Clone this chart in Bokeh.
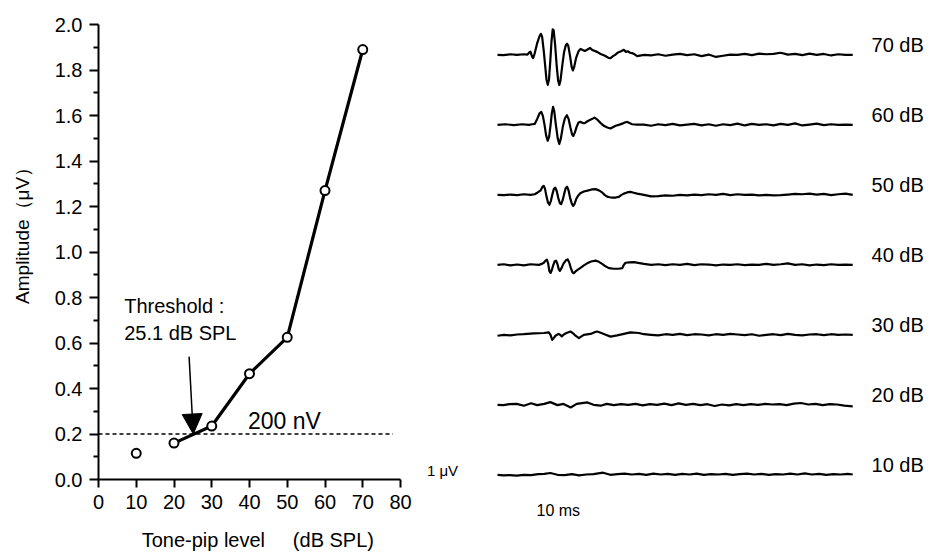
import numpy as np
from bokeh.plotting import figure
from bokeh.layouts import row
from bokeh.models import (Range1d, Arrow, NormalHead, Label, FixedTicker,
                          NumeralTickFormatter)
from bokeh.embed import file_html
from bokeh.resources import INLINE
from bokeh.core.properties import value

FONT = "Liberation Sans"
NB = "\u00a0"

# ---------------- left panel data ----------------
levels_db = [10, 20, 30, 40, 50, 60, 70]
amplitude_uv = [0.115, 0.160, 0.235, 0.465, 0.625, 1.270, 1.890]
threshold_db = 25.1
criterion_uv = 0.2
criterion_x = [0, 78]
x_ticks = [0, 10, 20, 30, 40, 50, 60, 70, 80]
y_ticks = [0.0, 0.2, 0.4, 0.6, 0.8, 1.0, 1.2, 1.4, 1.6, 1.8, 2.0]
y_minor = [0.1, 0.3, 0.5, 0.7, 0.9, 1.1, 1.3, 1.5, 1.7, 1.9]

# ---------------- right panel data (time in ms, amplitude in uV) ----------------
trace_levels = [70, 60, 50, 40, 30, 20, 10]
trace_labels = ["70 dB", "60 dB", "50 dB", "40 dB", "30 dB", "20 dB", "10 dB"]

tail_t = [12.2, 12.8, 13.4, 14.0, 14.6, 15.2, 15.8, 16.4, 17.0, 17.6, 18.2, 18.8,
          19.4, 20.0, 20.6, 21.2, 21.8, 22.4, 23.0, 23.6, 24.2, 24.8, 25.4, 26.0,
          26.6, 27.2, 27.8, 28.4, 29.0, 29.6]

t70 = [0.0, 0.5, 1.1, 1.6, 2.2, 2.5, 2.65, 2.75, 2.88, 2.97, 3.1, 3.3, 3.5, 3.62, 3.72,
       3.85, 3.97, 4.08, 4.19, 4.29, 4.4, 4.5, 4.6, 4.68, 4.8, 4.93, 5.05, 5.15, 5.25,
       5.4, 5.55, 5.7, 5.8, 5.9, 6.05, 6.18, 6.28, 6.38, 6.55, 6.75, 6.92, 7.1, 7.28,
       7.5, 7.72, 7.9, 8.05, 8.3, 8.6, 9.0, 9.25, 9.42, 9.6, 9.8, 10.05, 10.3, 10.53,
       10.7, 10.85, 11.05, 11.22, 11.45, 11.64] + tail_t
a70 = [0.0, -0.01, 0.02, 0.0, 0.02, 0.01, 0.08, 0.11, -0.06, -0.11, 0.05, 0.38, 0.62,
       0.70, 0.60, 0.15, -0.35, -0.82, -1.0, -0.82, -0.2, 0.45, 0.85, 0.82, 0.35, -0.35,
       -0.85, -1.0, -0.85, -0.35, 0.1, 0.33, 0.37, 0.3, -0.05, -0.4, -0.52, -0.42, -0.1,
       0.12, 0.2, 0.16, 0.13, 0.18, 0.23, 0.16, 0.14, 0.1, 0.03, -0.04, -0.1, -0.11,
       -0.05, 0.0, 0.08, 0.12, 0.17, 0.1, 0.12, 0.07, 0.06, 0.01, -0.04] + \
      [0.0, -0.02, 0.02, -0.03, 0.01, 0.03, -0.01, 0.02, -0.04, 0.01, -0.07, -0.03, 0.01,
       0.0, 0.03, -0.01, 0.04, 0.02, 0.03, 0.07, 0.01, 0.03, -0.01, 0.04, 0.0, 0.03, -0.02,
       0.02, 0.0, 0.0]

t60 = [0.0, 0.67, 1.36, 2.06, 2.61, 2.89, 3.1, 3.3, 3.5, 3.65, 3.78, 3.92, 4.05, 4.18,
       4.3, 4.42, 4.53, 4.63, 4.73, 4.87, 5.02, 5.15, 5.28, 5.45, 5.62, 5.78, 5.92, 6.08,
       6.22, 6.32, 6.45, 6.6, 6.75, 6.9, 7.1, 7.28, 7.5, 7.7, 7.9, 8.08, 8.3, 8.5, 8.7,
       8.9, 9.15, 9.42, 9.65, 9.85, 10.1, 10.4, 10.6, 10.81, 11.0, 11.22, 11.64] + tail_t
a60 = [0.0, 0.02, -0.01, 0.02, 0.0, 0.02, 0.03, 0.19, 0.38, 0.43, 0.3, 0.0, -0.35, -0.53,
       -0.4, -0.02, 0.4, 0.60, 0.45, -0.02, -0.45, -0.64, -0.45, -0.05, 0.22, 0.32, 0.2,
       -0.1, -0.32, -0.37, -0.25, -0.06, 0.08, 0.1, 0.06, 0.06, 0.12, 0.16, 0.2, 0.24,
       0.18, 0.1, 0.02, -0.04, -0.09, -0.12, -0.07, -0.03, 0.0, 0.04, 0.08, 0.1, 0.06,
       0.02, 0.01] + \
      [0.01, -0.03, 0.02, -0.01, 0.03, -0.02, 0.01, 0.03, -0.02, 0.02, -0.03, 0.02, -0.01,
       0.04, -0.02, 0.03, 0.0, 0.02, -0.02, 0.03, 0.0, 0.05, -0.02, 0.01, 0.04, -0.01, 0.02,
       0.0, 0.01, 0.0]

t50 = [0.0, 0.53, 1.08, 1.64, 2.19, 2.75, 3.1, 3.35, 3.6, 3.75, 3.86, 3.96, 4.08, 4.2,
       4.33, 4.45, 4.58, 4.7, 4.82, 4.94, 5.06, 5.2, 5.31, 5.43, 5.56, 5.68, 5.8, 5.92,
       6.05, 6.2, 6.31, 6.42, 6.55, 6.7, 6.9, 7.2, 7.5, 7.85, 8.17, 8.45, 8.72, 8.95, 9.14,
       9.35, 9.56, 9.85, 10.11, 10.3, 10.53, 10.8, 11.08, 11.35, 11.64] + tail_t
a50 = [0.0, -0.01, 0.01, -0.01, 0.02, 0.0, 0.02, 0.08, 0.15, 0.27, 0.30, 0.2, -0.05,
       -0.25, -0.33, -0.2, 0.03, 0.2, 0.24, 0.12, -0.1, -0.28, -0.31, -0.18, 0.04, 0.22,
       0.27, 0.15, -0.1, -0.3, -0.37, -0.3, -0.15, -0.04, 0.05, 0.11, 0.14, 0.18, 0.19,
       0.15, 0.08, -0.01, -0.06, -0.08, -0.09, -0.09, -0.07, -0.01, 0.04, 0.08, 0.10,
       0.07, 0.04] + \
      [0.0, -0.05, -0.04, -0.02, -0.03, 0.0, -0.02, 0.01, -0.01, 0.02, 0.0, 0.03, -0.01,
       0.02, 0.0, 0.01, -0.02, 0.0, -0.02, -0.01, 0.01, 0.03, 0.02, 0.04, 0.01, 0.03, -0.01,
       0.02, 0.04, 0.0]

t40 = [0.0, 0.53, 1.08, 1.64, 2.19, 2.75, 3.44, 3.7, 3.86, 4.0, 4.12, 4.22, 4.32, 4.42,
       4.52, 4.64, 4.77, 4.88, 5.0, 5.1, 5.2, 5.32, 5.5, 5.7, 5.85, 5.98, 6.12, 6.25, 6.36,
       6.5, 6.7, 6.92, 7.2, 7.47, 7.8, 8.17, 8.45, 8.72, 9.0, 9.28, 9.7, 10.11, 10.4, 10.5,
       10.67, 11.0, 11.36] + tail_t
a40 = [0.0, 0.02, -0.02, 0.01, -0.02, 0.02, 0.0, 0.03, 0.07, 0.14, 0.17, 0.05, -0.2,
       -0.27, -0.18, -0.02, 0.12, 0.14, 0.02, -0.14, -0.2, -0.12, 0.04, 0.15, 0.18, 0.08,
       -0.12, -0.25, -0.28, -0.22, -0.16, -0.1, -0.02, 0.05, 0.11, 0.14, 0.1, 0.03, -0.05,
       -0.11, -0.13, -0.13, -0.11, -0.02, 0.07, 0.08, 0.09] + \
      [0.03, 0.0, 0.02, -0.01, 0.02, 0.0, 0.03, -0.01, 0.02, 0.01, -0.02, 0.01, 0.0, 0.02,
       -0.01, 0.01, 0.0, 0.03, 0.0, 0.02, 0.05, 0.0, 0.02, -0.02, 0.01, -0.01, 0.02, 0.0,
       0.01, 0.0]

t30 = [0.0, 0.53, 1.08, 1.64, 2.19, 3.03, 3.86, 4.28, 4.42, 4.56, 4.7, 4.83, 5.08, 5.22,
       5.36, 5.55, 5.75, 6.08, 6.3, 6.5, 6.78, 7.0, 7.19, 7.75, 8.05, 8.31, 8.6, 8.86,
       9.42, 9.97, 10.53, 11.08, 11.78] + tail_t
a30 = [-0.03, 0.0, -0.02, 0.01, 0.02, 0.05, 0.06, 0.08, 0.0, -0.17, -0.1, -0.03, 0.03,
       0.0, -0.05, 0.02, 0.06, 0.11, 0.05, -0.03, -0.11, -0.05, 0.0, 0.03, 0.08, 0.11,
       0.07, 0.03, -0.06, -0.02, 0.03, 0.08, 0.06] + \
      [0.02, 0.0, -0.02, 0.02, 0.0, 0.03, -0.01, 0.02, 0.01, -0.02, 0.02, 0.0, 0.03, 0.01,
       -0.01, 0.02, -0.03, 0.0, 0.02, -0.01, 0.03, 0.0, -0.02, 0.01, 0.02, -0.01, 0.02, 0.0,
       0.01, 0.0]

t20 = [0.0, 0.5, 1.0, 1.6, 2.2, 2.8, 3.3, 3.9, 4.4, 5.0, 5.5, 6.1, 6.6, 7.5, 8.0, 8.6,
       9.1, 9.7, 10.3, 10.9, 11.5, 12.1, 12.7, 13.3, 13.9, 14.5, 15.1, 15.7, 16.3, 16.9,
       17.5, 18.1, 18.7, 19.3, 19.9, 20.5, 21.1, 21.7, 22.3, 22.9, 23.5, 24.1, 24.7, 25.3,
       25.9, 26.5, 27.1, 27.7, 28.3, 28.9, 29.6]
a20 = [0.0, -0.01, 0.02, 0.03, -0.03, 0.05, -0.01, 0.03, 0.09, -0.01, 0.03, -0.09, 0.03,
       0.08, 0.0, -0.03, 0.03, -0.01, 0.02, 0.0, 0.03, -0.02, 0.02, 0.0, 0.04, -0.01, 0.05,
       0.0, 0.03, -0.01, 0.02, -0.04, 0.01, -0.02, 0.02, -0.01, 0.02, 0.0, 0.03, 0.01, 0.02,
       -0.01, 0.04, 0.06, 0.01, 0.03, -0.01, 0.02, 0.01, -0.03, -0.05]

t10 = [0.0, 0.5, 1.0, 1.6, 2.2, 2.8, 3.4, 3.9, 4.4, 5.0, 5.6, 6.2, 6.8, 7.4, 8.0, 8.8,
       9.4, 10.0, 10.6, 11.2, 11.8, 12.4, 13.0, 13.6, 14.2, 14.8, 15.4, 16.0, 16.6, 17.2,
       17.8, 18.4, 19.0, 19.6, 20.2, 20.8, 21.4, 22.0, 22.6, 23.2, 23.8, 24.4, 25.0, 25.6,
       26.2, 26.8, 27.4, 28.0, 28.6, 29.2, 29.6]
a10 = [0.0, -0.02, -0.01, -0.03, 0.0, -0.01, 0.02, 0.03, 0.06, 0.0, -0.01, 0.02, -0.02,
       0.01, 0.02, 0.07, 0.0, 0.02, 0.04, 0.01, 0.03, 0.0, 0.04, 0.01, 0.03, 0.0, 0.03,
       0.01, 0.04, 0.0, 0.02, 0.01, 0.03, 0.0, 0.02, 0.04, 0.01, 0.03, 0.0, 0.02, 0.01,
       0.04, 0.01, 0.05, 0.01, 0.03, 0.0, 0.02, 0.01, 0.03, 0.01]

trace_times = [t70, t60, t50, t40, t30, t20, t10]
trace_amps = [a70, a60, a50, a40, a30, a20, a10]

# ---------------- layout constants ----------------
TOTAL_H = 557
LEFT_W = 420
RIGHT_W = 515
TRACE_GAP_UV = 2.333      # vertical spacing between traces (uV per 10 dB)
PX_PER_UV = 30.0
PX_PER_MS = 12.0
T0_PX = 77.0              # screen x of t=0 inside the right figure
BASE10_FROM_BOTTOM = 82.7 # screen px from bottom to the 10 dB baseline

# ---------------- left figure ----------------
p1 = figure(width=LEFT_W, height=TOTAL_H, x_range=Range1d(0, 80), y_range=Range1d(0, 2.0),
            output_backend="svg", toolbar_location=None,
            min_border_left=98, min_border_right=LEFT_W - 98 - 302,
            min_border_top=24, min_border_bottom=78)
p1.frame_align = False
p1.grid.visible = False
p1.outline_line_color = None

xa = p1.xaxis[0]
xa.ticker = FixedTicker(ticks=x_ticks, minor_ticks=[])
ya = p1.yaxis[0]
ya.ticker = FixedTicker(ticks=y_ticks, minor_ticks=y_minor)
ya.formatter = NumeralTickFormatter(format="0.0")
for ax in (xa, ya):
    ax.axis_line_width = 2
    ax.axis_line_color = "black"
    ax.major_tick_line_width = 2
    ax.major_tick_line_color = "black"
    ax.minor_tick_line_width = 2
    ax.minor_tick_line_color = "black"
    ax.major_tick_in = 0
    ax.minor_tick_in = 0
    ax.major_label_text_font = FONT
    ax.major_label_text_font_size = "20px"
    ax.major_label_text_color = "black"
    ax.major_label_standoff = 7
    ax.axis_label_text_font = FONT
    ax.axis_label_text_font_style = "normal"
    ax.axis_label_text_color = "black"
xa.major_tick_out = 8
xa.minor_tick_out = 0
ya.major_tick_out = 9
ya.minor_tick_out = 5

xa.axis_label = NB * 3 + "Tone-pip level" + NB * 5 + "(dB SPL)"
xa.axis_label_text_font_size = "20px"
xa.axis_label_standoff = 17
ya.axis_label = NB * 8 + "Amplitude（μV）"
ya.axis_label_text_font_size = "19px"
ya.axis_label_standoff = 19

# criterion line
p1.line(criterion_x, [criterion_uv, criterion_uv], line_color="black",
        line_width=1.4, line_dash="4 3")
# growth function (connected from 20 dB upward)
p1.line(levels_db[1:], amplitude_uv[1:], line_color="black", line_width=3.2)
p1.scatter(levels_db, amplitude_uv, size=9, fill_color="white", line_color="black",
           line_width=2)

p1.add_layout(Arrow(end=NormalHead(size=20, fill_color="black", line_color="black"),
                    x_start=24.0, y_start=0.54, x_end=threshold_db, y_end=criterion_uv,
                    line_width=1.5, line_color="black"))

p1.add_layout(Label(x=6.8, y=0.761, text="Threshold :", text_font=FONT,
                    text_font_size="20px", text_baseline="alphabetic", text_color="black"))
p1.add_layout(Label(x=6.8, y=0.642, text="25.1 dB SPL", text_font=FONT,
                    text_font_size="20px", text_baseline="alphabetic", text_color="black"))
p1.add_layout(Label(x=39.6, y=0.258, text="200 nV", text_font=FONT,
                    text_font_size="23px", text_baseline="alphabetic", text_color="black"))

# ---------------- right figure ----------------
x_start = -T0_PX / PX_PER_MS
x_end = (RIGHT_W - T0_PX) / PX_PER_MS
y_start = 1 * TRACE_GAP_UV - BASE10_FROM_BOTTOM / PX_PER_UV
y_end = y_start + TOTAL_H / PX_PER_UV

p2 = figure(width=RIGHT_W, height=TOTAL_H, x_range=Range1d(x_start, x_end),
            y_range=Range1d(y_start, y_end), x_axis_type=None, y_axis_type=None,
            output_backend="svg", toolbar_location=None,
            min_border_left=0, min_border_right=0, min_border_top=0, min_border_bottom=0)
p2.frame_align = False
p2.grid.visible = False
p2.outline_line_color = None

baselines = [lv / 10 * TRACE_GAP_UV for lv in trace_levels]
for base, tt, aa in zip(baselines, trace_times, trace_amps):
    p2.line(tt, base + np.array(aa), line_color="black", line_width=2.2,
            line_join="round")

p2.text(x=[31.17] * len(baselines), y=baselines, text=trace_labels,
        text_font=value(FONT), text_font_size="20px", text_baseline="alphabetic",
        text_color="black", y_offset=-10)

p2.add_layout(Label(x=-5.88, y=baselines[-1] + 0.15, text="1 μV", text_font=FONT,
                    text_font_size="15px", text_baseline="alphabetic", text_color="black"))
p2.add_layout(Label(x=3.25, y=baselines[-1] - 1.18, text="10 ms", text_font=FONT,
                    text_font_size="16px", text_baseline="alphabetic", text_color="black"))

layout = row(p1, p2)
open("out.html", "w").write(file_html(layout, INLINE))
